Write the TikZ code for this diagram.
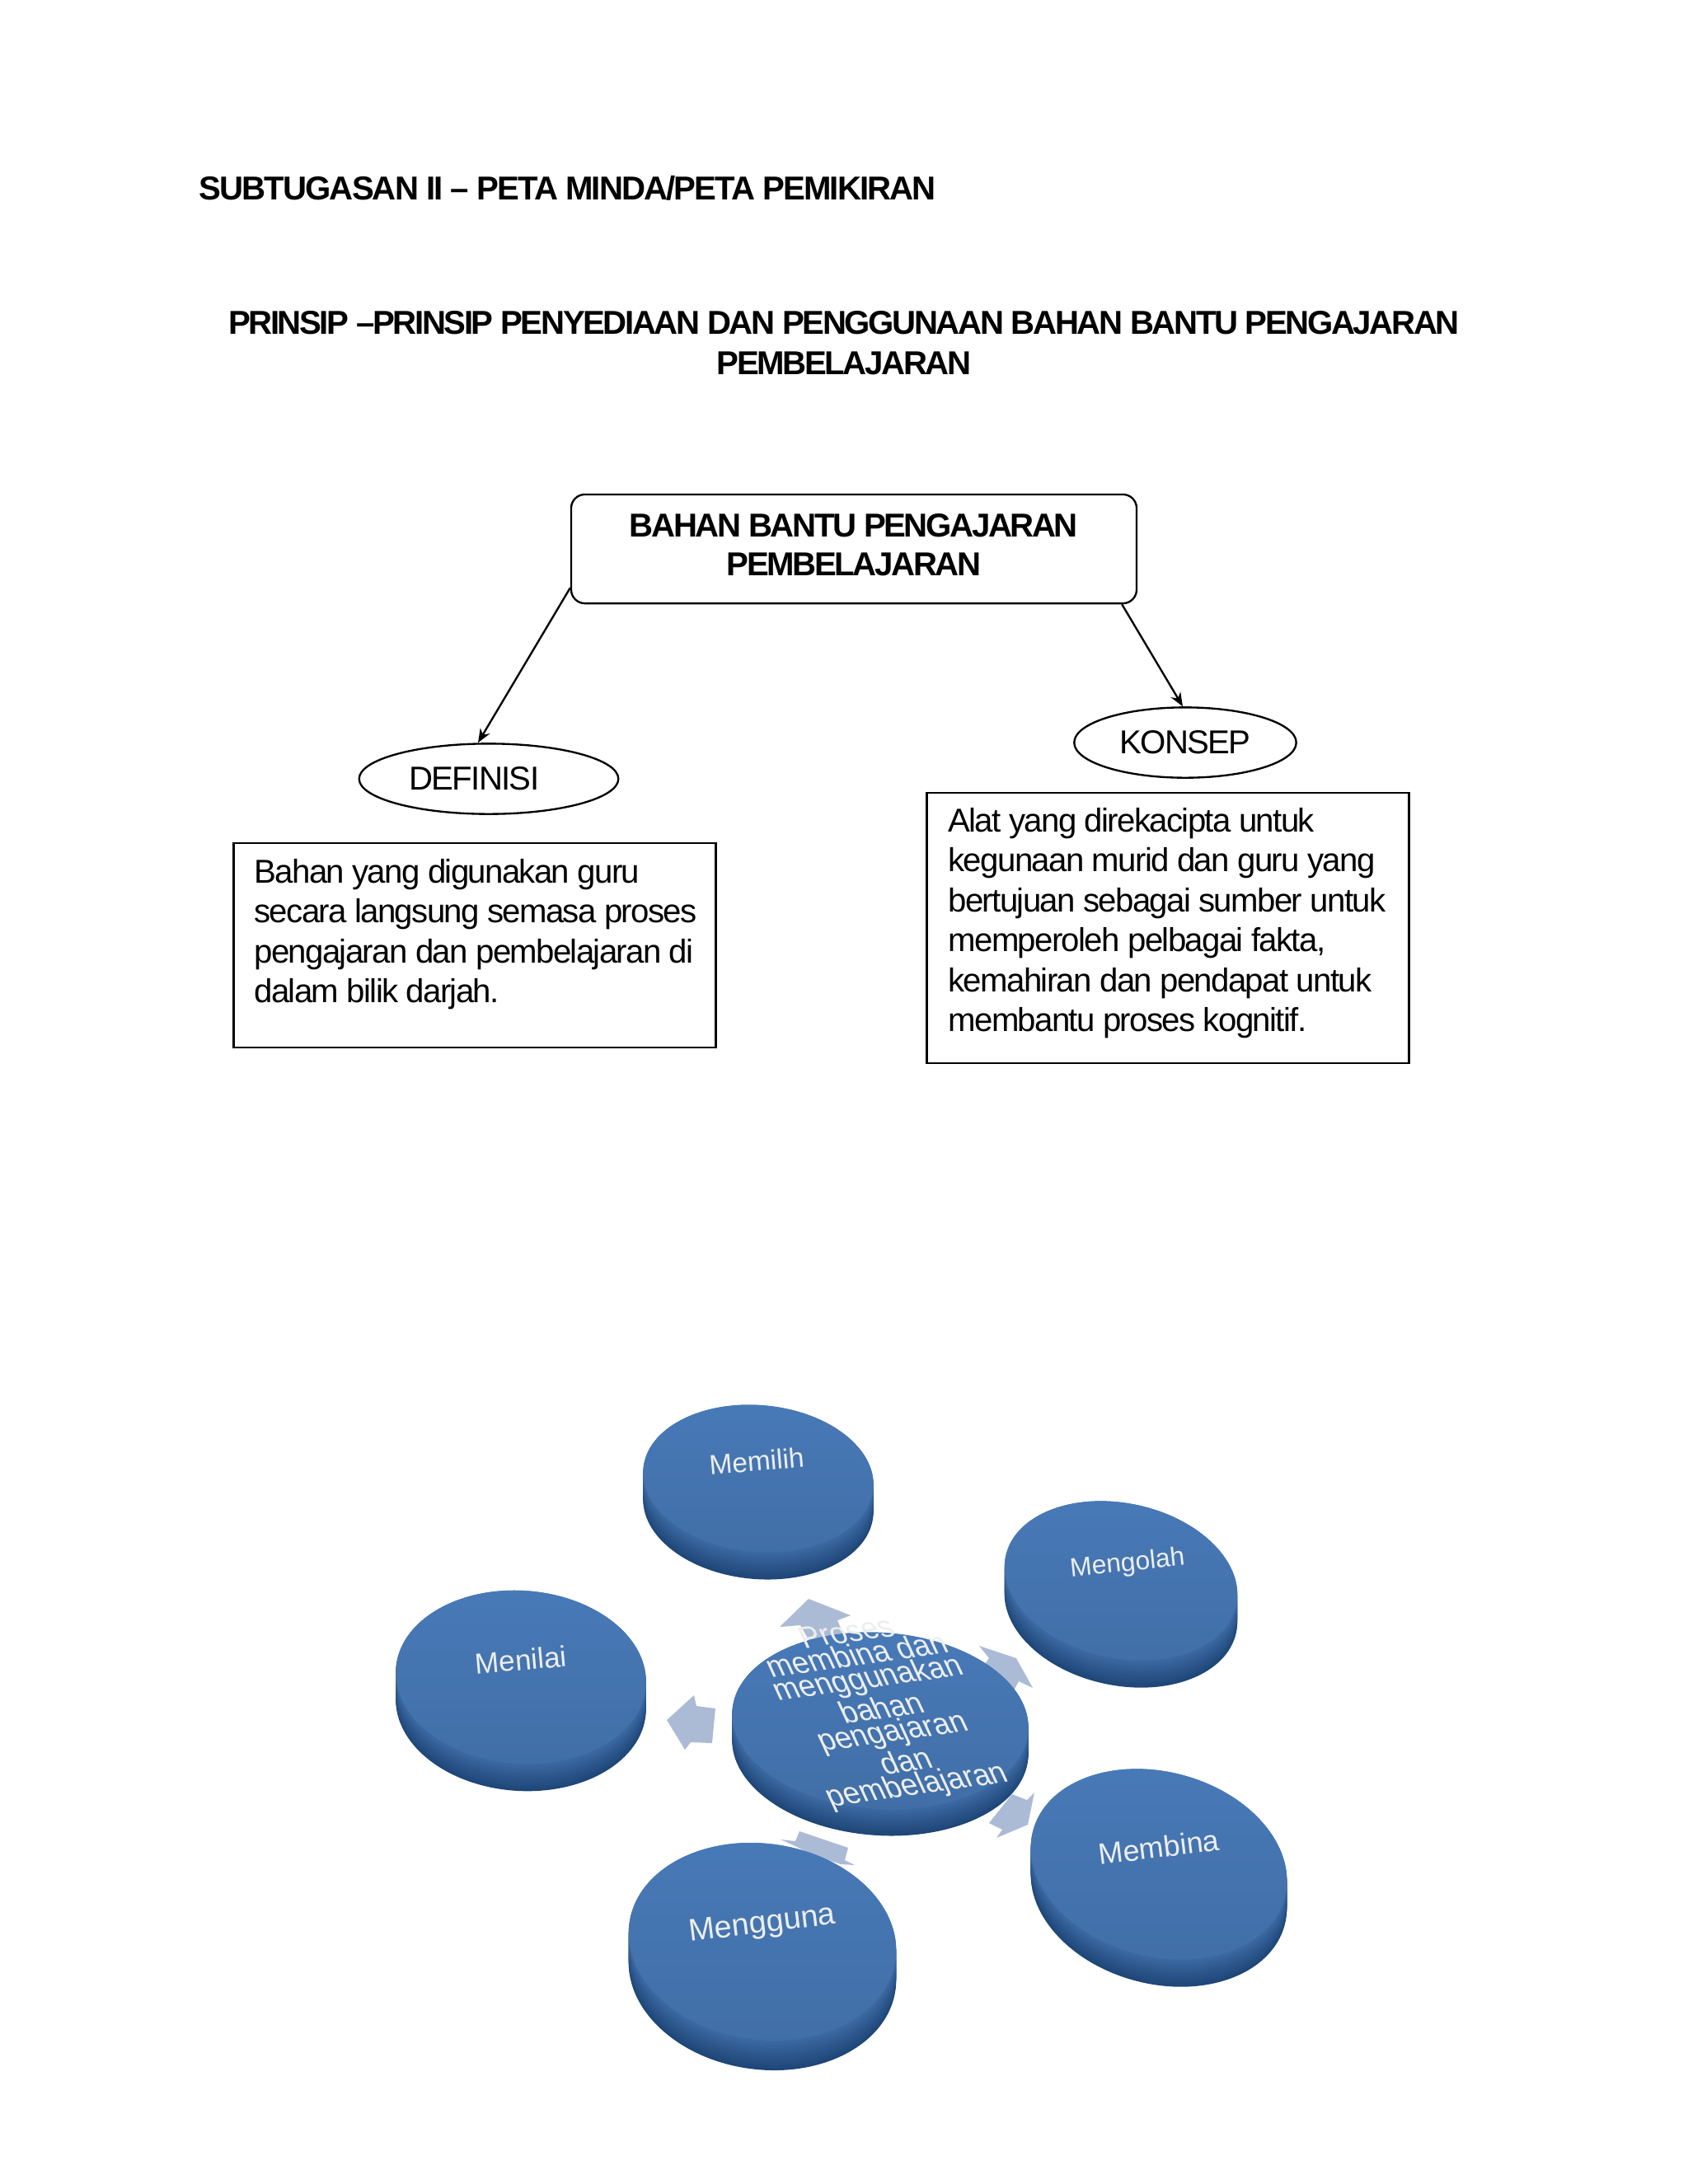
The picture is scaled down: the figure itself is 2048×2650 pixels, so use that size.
\documentclass[tikz,border=0pt]{standalone}
\usepackage{fontspec}
\setmainfont[LetterSpace=-4.1, BoldFeatures={LetterSpace=-5.9}]{Liberation Sans}
\newfontfamily\discfont{Liberation Sans}
\newfontfamily\subtitlefont[LetterSpace=-4.7]{Liberation Sans Bold}
\usepackage{xcolor}
\usepackage{tikz}
\usetikzlibrary{shapes.geometric, arrows.meta, positioning, calc}
\definecolor{disctop}{RGB}{72, 122, 184}
\definecolor{discrim}{RGB}{62, 108, 166}
\definecolor{discedge}{RGB}{30, 70, 120}
\definecolor{arrowblue}{RGB}{172, 187, 213}
\definecolor{labelwhite}{RGB}{236, 238, 238}
\tikzset{
    titletext/.style={font=\fontsize{12}{14.8}\selectfont\bfseries, align=center, inner sep=0pt},
    headbox/.style={draw, rounded corners=5pt, line width=0.7pt, minimum width=205pt, minimum height=39.5pt,
          font=\fontsize{12}{14.1}\selectfont\bfseries, align=center, inner sep=0pt, text depth=3pt},
    tagoval/.style={draw, ellipse, line width=0.7pt, minimum width=94pt, minimum height=25.5pt,
          font=\fontsize{12}{14}\selectfont, inner sep=0pt},
    notebox/.style={draw, line width=0.7pt, font=\fontsize{12}{14.5}\selectfont, align=left, inner sep=0pt},
    linkarrow/.style={-{Stealth[length=5pt, width=4pt]}, line width=0.7pt},
    blockarrow/.style={fill=arrowblue},
    disclabel/.style={text=labelwhite, align=center, inner sep=0pt},
}
\begin{document}
\begin{tikzpicture}[x=0.2988pt, y=-0.2988pt]
    \useasboundingbox (0,0) rectangle (2048,2650);

    % headings
    \node[titletext, anchor=west, font=\subtitlefont\fontsize{12}{14.8}\selectfont] (subtitle) at (241,228) {SUBTUGASAN II – PETA MINDA/PETA PEMIKIRAN};
    \node[titletext] (maintitle) at (1024,416) {PRINSIP –PRINSIP PENYEDIAAN DAN PENGGUNAAN BAHAN BANTU PENGAJARAN\\PEMBELAJARAN};

    % top part
    \node[headbox] (bbm) at (1036,666) {BAHAN BANTU PENGAJARAN\\PEMBELAJARAN};
    \node[tagoval] (definisi) at (593,945) {DEFINISI\hspace*{10.7pt}};
    \node[tagoval, minimum width=80.5pt] (konsep) at (1438,901) {KONSEP};
    \node[notebox, minimum width=174.8pt, minimum height=74pt] (definisibox) at (576,1147) {};
    \node[notebox, minimum width=174.8pt, minimum height=98pt] (konsepbox) at (1417,1126) {};
    \node[notebox, draw=none, anchor=north west] (definisitext) at ($(definisibox.north west)+(25,19)$)
        {Bahan yang digunakan guru\\secara langsung semasa proses\\pengajaran dan pembelajaran di\\dalam bilik darjah.};
    \node[notebox, draw=none, anchor=north west] (konseptext) at ($(konsepbox.north west)+(26,18)$)
        {Alat yang direkacipta untuk\\kegunaan murid dan guru yang\\bertujuan sebagai sumber untuk\\memperoleh pelbagai fakta,\\kemahiran dan pendapat untuk\\membantu proses kognitif.};
    \draw[linkarrow] ($(bbm.south west)+(0,-20)$) -- ($(definisi.north)+(-13,0)$);
    \draw[linkarrow] ($(bbm.south east)+(-19,0)$) -- ($(konsep.north)+(-3,0)$);

    % block arrows, behind the discs
    \fill[blockarrow] (981,1940) -- (1032,1960) -- (1016,1966) -- (1030,2000) -- (990,2005) -- (971,1972) -- (946,1974) -- cycle;
    \fill[blockarrow] (1188,1997) -- (1233,2012) -- (1253,2048) -- (1236,2040) -- (1225,2060) -- (1180,2040) -- (1200,2012) -- cycle;
    \fill[blockarrow] (809,2087) -- (842,2057) -- (845,2070) -- (868,2073) -- (864,2115) -- (838,2114) -- (831,2123) -- cycle;
    \fill[blockarrow] (1228,2177) -- (1246,2184) -- (1255,2175) -- (1247,2214) -- (1209,2230) -- (1216,2220) -- (1200,2212) -- cycle;
    \fill[blockarrow] (970,2222) -- (1029,2242) -- (1025,2257) -- (1037,2263) -- (1020,2262) -- (985,2250) -- (965,2240) -- (947,2232) -- (965,2234) -- cycle;

    % discs: side first, then the face
    \foreach \cx/\cy/\rx/\ry/\rot/\off in {
        920/1794/140/89/-5/33,
        1360/1918/143/94/-12/33,
        632/2035/152/105/-4/33,
        1068/2088/180/107/-4/32,
        1406/2262/158/112/-15/33,
        925/2356/163/119/-8/36} {
        \foreach \k in {0,...,16} {
            \pgfmathsetmacro{\dy}{\off*(1-\k/16)}
            \pgfmathsetmacro{\mixval}{100-6*\k}
            \fill[discedge!\mixval!discrim] (\cx,\cy+\dy) ellipse [x radius=\rx, y radius=\ry, rotate=\rot];
        }
        \shade[top color=disctop, bottom color=disctop!90!black]
            (\cx,\cy) ellipse [x radius=\rx, y radius=\ry, rotate=\rot];
    }

    % disc labels
    \node[disclabel, font=\discfont\fontsize{10}{12}\selectfont, rotate=5] (lmemilih) at (918,1773) {Memilih};
    \node[disclabel, font=\discfont\fontsize{9.5}{12}\selectfont, rotate=6] (lmengolah) at (1368,1898) {Mengolah};
    \node[disclabel, font=\discfont\fontsize{10.5}{12}\selectfont, rotate=5] (lmenilai) at (632,2014) {Menilai};
    \node[disclabel, font=\discfont\fontsize{10.7}{12}\selectfont, rotate=7] (lmembina) at (1406,2241) {Membina};
    \node[disclabel, font=\discfont\fontsize{11.3}{12}\selectfont, rotate=7] (lmengguna) at (925,2336) {Mengguna};
    \node[disclabel, font=\discfont\fontsize{10.7}{8.3}\selectfont, transform shape, cm={1,0.14,-0.46,1,(0,0)}] (lpusat) at (1071,2076)
        {Proses\\membina dan\\menggunakan\\bahan\\pengajaran\\dan\\pembelajaran};
\end{tikzpicture}
\end{document}
